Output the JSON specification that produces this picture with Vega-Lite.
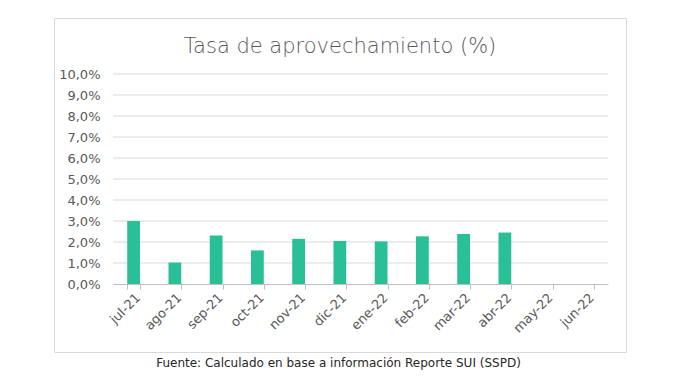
{
  "$schema": "https://vega.github.io/schema/vega-lite/v6.json",
  "width": 572,
  "height": 334,
  "autosize": {"type": "none"},
  "padding": {"left": 54, "top": 18, "right": 70, "bottom": 27},
  "background": "white",
  "config": {"view": {"stroke": "#d9d9d9", "strokeWidth": 1}, "font": "DejaVu Sans"},
  "title": {"text": "Tasa de aprovechamiento (%)", "fontSize": 21, "fontWeight": 300, "color": "#595959", "anchor": "middle", "offset": -39},
  "layer": [
    {
      "data": {"values": [{"g": 1}, {"g": 2}, {"g": 3}, {"g": 4}, {"g": 5}, {"g": 6}, {"g": 7}, {"g": 8}, {"g": 9}, {"g": 10}]},
      "mark": {"type": "rule", "color": "#d9d9d9", "strokeWidth": 1},
      "encoding": {
        "y": {
          "field": "g", "type": "quantitative", "scale": {"domain": [0, 10], "range": [266, 56]},
          "axis": {
            "title": null, "values": [0, 1, 2, 3, 4, 5, 6, 7, 8, 9, 10],
            "labelExpr": "replace(format(datum.value, '.1f'), '.', ',') + '%'",
            "domain": false, "ticks": false, "grid": false, "offset": -50, "labelPadding": 4,
            "labelColor": "#595959", "labelFontSize": 13
          }
        },
        "x": {"datum": 0, "type": "quantitative", "scale": {"domain": [0, 1], "range": [59, 554]}, "axis": null},
        "x2": {"datum": 1}
      }
    },
    {
      "data": {"values": [
        {"mes": "jul-21", "v": 3.0},
        {"mes": "ago-21", "v": 1.02},
        {"mes": "sep-21", "v": 2.31},
        {"mes": "oct-21", "v": 1.6},
        {"mes": "nov-21", "v": 2.15},
        {"mes": "dic-21", "v": 2.05},
        {"mes": "ene-22", "v": 2.03},
        {"mes": "feb-22", "v": 2.27},
        {"mes": "mar-22", "v": 2.38},
        {"mes": "abr-22", "v": 2.45},
        {"mes": "may-22", "v": null},
        {"mes": "jun-22", "v": null}
      ]},
      "mark": {"type": "bar", "color": "#29bf97"},
      "encoding": {
        "x": {
          "field": "mes", "type": "nominal", "sort": null,
          "scale": {"domain": ["jul-21", "ago-21", "sep-21", "oct-21", "nov-21", "dic-21", "ene-22", "feb-22", "mar-22", "abr-22", "may-22", "jun-22"], "range": [59, 554], "paddingInner": 0.69, "paddingOuter": 0.345},
          "axis": {
            "title": "Fuente: Calculado en base a información Reporte SUI (SSPD)",
            "titleFontSize": 12, "titleColor": "#262626", "titleFontWeight": "normal",
            "titleX": 284, "titleY": 82, "titleAlign": "center", "titleBaseline": "alphabetic",
            "offset": -68, "labelAngle": -45, "labelColor": "#595959", "labelFontSize": 13,
            "domainColor": "#bfbfbf", "tickColor": "#bfbfbf", "tickBand": "extent", "tickSize": 5,
            "labelPadding": 2, "grid": false, "labelOverlap": false
          }
        },
        "y": {
          "field": "v", "type": "quantitative",
          "scale": {"domain": [0, 10], "range": [266, 56]},
          "axis": {
            "title": null, "values": [0, 1, 2, 3, 4, 5, 6, 7, 8, 9, 10],
            "labelExpr": "replace(format(datum.value, '.1f'), '.', ',') + '%'",
            "domain": false, "ticks": false, "grid": false, "offset": -50, "labelPadding": 4,
            "labelColor": "#595959", "labelFontSize": 13
          }
        }
      }
    }
  ],
  "resolve": {"scale": {"x": "independent"}}
}
